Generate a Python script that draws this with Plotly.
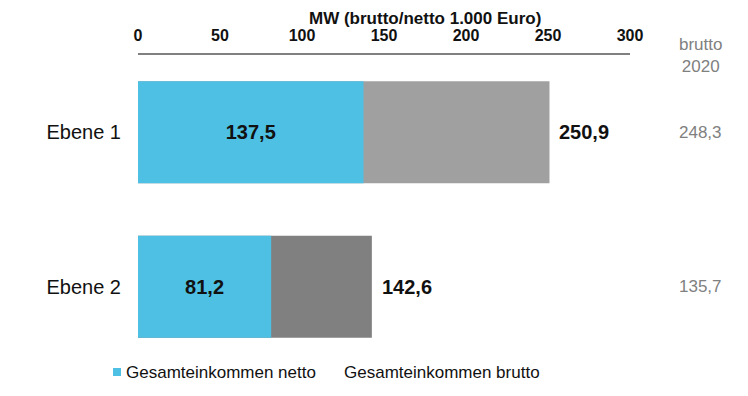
import plotly.graph_objects as go

categories = ["Ebene 1", "Ebene 2"]
netto = [137.5, 81.2]
brutto = [250.9, 142.6]
brutto_2020 = [248.3, 135.7]
x_ticks = [0, 50, 100, 150, 200, 250, 300]

FONT = "Arial, 'Liberation Sans', sans-serif"
CYAN = "#4EC0E4"
GRAYS = ["#A0A0A0", "#808080"]


def de(v):
    return f"{v:.1f}".replace(".", ",")


fig = go.Figure()
fig.add_trace(go.Bar(
    y=categories, x=brutto, orientation="h", name="Gesamteinkommen brutto",
    marker=dict(color=GRAYS, line=dict(width=0)), showlegend=False,
    hoverinfo="x",
))
fig.add_trace(go.Bar(
    y=categories, x=netto, orientation="h", name="Gesamteinkommen netto",
    marker=dict(color=CYAN, line=dict(width=0)), showlegend=False,
    text=[de(v) for v in netto], textposition="inside", insidetextanchor="middle",
    textfont=dict(family=FONT, size=20, color="#111111", weight="bold"),
    textangle=0, hoverinfo="x",
))

annotations = []
# brutto value labels to the right of bars
for c, v in zip(categories, brutto):
    annotations.append(dict(
        x=v, y=c, xref="x", yref="y", text=f"<b>{de(v)}</b>", showarrow=False,
        xanchor="left", yanchor="middle", xshift=8,
        font=dict(family=FONT, size=20, color="#111111"),
    ))
# right column brutto 2020
for c, v in zip(categories, brutto_2020):
    annotations.append(dict(
        x=1.144, y=c, xref="paper", yref="y", text=de(v), showarrow=False,
        xanchor="center", yanchor="middle",
        font=dict(family=FONT, size=17, color="#808080"),
    ))
annotations.append(dict(
    x=1.144, y=1.0, xref="paper", yref="paper", text="brutto<br>2020", showarrow=False,
    xanchor="center", yanchor="middle", borderpad=0,
    font=dict(family=FONT, size=17, color="#808080"),
))
# axis title
annotations.append(dict(
    x=0.583, y=1.1197, xref="paper", yref="paper", text="<b>MW (brutto/netto 1.000 Euro)</b>",
    showarrow=False, xanchor="center", yanchor="middle", borderpad=0,
    font=dict(family=FONT, size=17, color="#111111"),
))
# legend texts
annotations.append(dict(
    x=-0.0285, y=-0.0259, xref="paper", yref="paper", text="Gesamteinkommen netto",
    showarrow=False, xanchor="left", yanchor="middle",
    font=dict(family=FONT, size=17, color="#111111"),
))
annotations.append(dict(
    x=0.4145, y=-0.0259, xref="paper", yref="paper", text="Gesamteinkommen brutto",
    showarrow=False, xanchor="left", yanchor="middle",
    font=dict(family=FONT, size=17, color="#111111"),
))

shapes = [dict(
    type="rect", xref="paper", yref="paper", xsizemode="pixel", ysizemode="pixel",
    xanchor=-0.0427, yanchor=-0.0259, x0=-4, x1=4, y0=-4, y1=4,
    fillcolor=CYAN, line=dict(width=0),
)]

# page body has an 8px margin, so the figure is offset by 8px
fig.update_layout(
    width=740, height=388,
    margin=dict(l=130, r=118, t=47, b=32),
    paper_bgcolor="white", plot_bgcolor="white",
    barmode="overlay", bargap=0.34,
    separators=",.",
    showlegend=False,
    annotations=annotations, shapes=shapes,
    font=dict(family=FONT, color="#111111"),
    xaxis=dict(
        side="top", range=[0, 300], tickvals=x_ticks, ticktext=[str(t) for t in x_ticks],
        showgrid=False, zeroline=False, showline=True, linecolor="#808080", linewidth=2,
        ticks="", ticklabelstandoff=6,
        tickfont=dict(family=FONT, size=16, color="#111111", weight="bold"),
    ),
    yaxis=dict(
        type="category", categoryorder="array", categoryarray=categories,
        range=[1.5, -0.5], showgrid=False, zeroline=False, showline=False,
        ticks="", ticklabelstandoff=16,
        tickfont=dict(family=FONT, size=20, color="#111111"),
    ),
)

fig.write_html("out.html")
